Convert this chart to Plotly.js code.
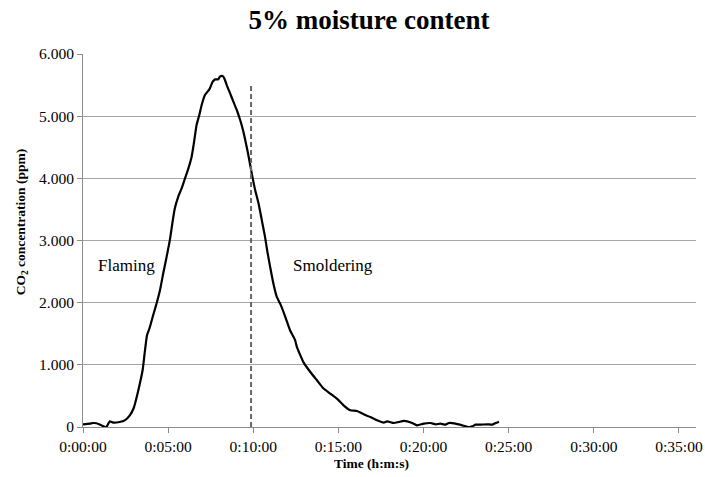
<!DOCTYPE html>
<html>
<head>
<meta charset="utf-8">
<script src="https://cdn.plot.ly/plotly-3.0.1.min.js"></script>
<style>
  html, body { margin: 0; padding: 0; background: #fff; }
  #chart { width: 705px; height: 477px; }
</style>
</head>
<body>
<div id="chart"></div>
<script>
// Elapsed time in minutes
const timeMin = [
  0.00, 0.40, 0.59, 0.79, 1.08, 1.37, 1.57, 1.77, 2.15, 2.45,
  2.75, 2.98, 3.18, 3.34, 3.50, 3.63, 3.76, 3.92, 4.12, 4.32,
  4.52, 4.71, 4.91, 5.10, 5.26, 5.39, 5.59, 5.79, 5.99, 6.19,
  6.38, 6.51, 6.67, 6.83, 6.97, 7.16, 7.42, 7.62, 7.76, 7.94,
  8.04, 8.20, 8.30, 8.44, 8.64, 8.83, 9.03, 9.23, 9.42, 9.57,
  9.71, 9.91, 10.11, 10.31, 10.50, 10.69, 10.83, 10.99, 11.18, 11.38,
  11.60, 11.88, 12.16, 12.46, 12.56, 12.72, 12.95, 13.35, 13.74, 14.13,
  14.52, 14.91, 15.30, 15.70, 16.09, 16.48, 16.88, 17.27, 17.66, 17.86,
  18.25, 18.54, 18.84, 19.04, 19.33, 19.62, 20.01, 20.41, 20.70, 20.99,
  21.29, 21.49, 21.88, 22.27, 22.66, 22.86, 23.06, 23.35, 23.74, 24.03,
  24.23, 24.43
];
// CO2 concentration (ppm)
const co2 = [
  43, 54, 64, 60, 27, 0, 91, 70, 80, 107,
  188, 306, 510, 698, 912, 1208, 1476, 1600, 1798, 1986,
  2200, 2469, 2737, 3006, 3301, 3515, 3703, 3837, 3998, 4159,
  4347, 4562, 4857, 5018, 5179, 5340, 5431, 5555, 5592, 5592,
  5635, 5646, 5608, 5501, 5367, 5233, 5099, 4938, 4750, 4562,
  4374, 4079, 3811, 3596, 3328, 3059, 2818, 2576, 2308, 2093,
  1972, 1771, 1556, 1395, 1288, 1181, 1040, 885, 752, 618,
  537, 457, 349, 269, 258, 204, 161, 108, 71, 91,
  64, 80, 97, 91, 64, 27, 54, 64, 43, 54,
  38, 64, 54, 27, 0, 10, 38, 38, 43, 38,
  64, 86
];
// Flaming / smoldering transition marker
const transitionMin = [9.87, 9.87];
const transitionPpm = [0, 5500];
// Axis
const xRangeMin = [0, 36];
const yTicks = [0, 1000, 2000, 3000, 4000, 5000, 6000];
// Phase labels
const phaseLabels = ["Flaming", "Smoldering"];
const phaseLabelMin = [0.75, 12.21];
const phaseLabelPpm = [2600, 2600];

function toDate(m) {
  const totalMs = Math.round(m * 60000);
  const h = Math.floor(totalMs / 3600000);
  const mi = Math.floor((totalMs % 3600000) / 60000);
  const s = (totalMs % 60000) / 1000;
  const p2 = n => String(n).padStart(2, '0');
  const sInt = Math.floor(s);
  const frac = Math.round((s - sInt) * 1000);
  return '2000-01-01 ' + p2(h) + ':' + p2(mi) + ':' + p2(sInt) + '.' + String(frac).padStart(3, '0');
}

const FONT = 'Liberation Serif, Times New Roman, Times, serif';

const traces = [
  {
    x: timeMin.map(toDate),
    y: co2,
    type: 'scatter',
    mode: 'lines',
    line: { color: '#000000', width: 2.2, shape: 'spline', smoothing: 0.5 },
    hoverinfo: 'x+y',
    showlegend: false
  },
  {
    x: transitionMin.map(toDate),
    y: transitionPpm,
    type: 'scatter',
    mode: 'lines',
    line: { color: '#666666', width: 2, dash: '5px,3px' },
    hoverinfo: 'skip',
    showlegend: false
  }
];

const annotations = phaseLabels.map((t, i) => ({
  x: toDate(phaseLabelMin[i]),
  y: phaseLabelPpm[i],
  xref: 'x', yref: 'y',
  text: t,
  showarrow: false,
  xanchor: 'left',
  yanchor: 'middle',
  font: { family: FONT, size: 17, color: '#000' }
}));

annotations.push({
  xref: 'paper', yref: 'paper',
  x: -0.1, y: 0.548,
  text: '<b>CO<sub>2</sub> concentration (ppm)</b>',
  textangle: -90,
  showarrow: false,
  xanchor: 'center', yanchor: 'middle',
  font: { family: FONT, size: 13.5, color: '#000' }
});
annotations.push({
  xref: 'paper', yref: 'paper',
  x: 0.47, y: -0.099,
  text: '<b>Time (h:m:s)</b>',
  showarrow: false,
  xanchor: 'center', yanchor: 'middle',
  font: { family: FONT, size: 13.5, color: '#000' }
});

const layout = {
  width: 705,
  height: 477,
  margin: { l: 83, r: 9, t: 54, b: 50, pad: 0 },
  paper_bgcolor: '#ffffff',
  plot_bgcolor: '#ffffff',
  separators: ',.',
  font: { family: FONT, color: '#000' },
  title: {
    text: '<b>5% moisture content</b>',
    font: { family: FONT, size: 27, color: '#000' },
    xref: 'container', yref: 'container',
    x: 369 / 705, xanchor: 'center',
    y: 1 - 20 / 477, yanchor: 'middle'
  },
  xaxis: {
    type: 'date',
    range: xRangeMin.map(toDate),
    tick0: toDate(0),
    dtick: 300000,
    tickformat: '%-H:%M:%S',
    showgrid: false,
    zeroline: false,
    showline: true,
    linecolor: '#8c8c8c',
    linewidth: 1,
    ticks: 'outside',
    ticklen: 5,
    tickcolor: '#8c8c8c',
    tickfont: { family: FONT, size: 15.5, color: '#000' },
    fixedrange: true
  },
  yaxis: {
    range: [0, 6000],
    tickvals: yTicks,
    tickformat: ',d',
    showgrid: true,
    gridcolor: '#a6a6a6',
    gridwidth: 1,
    zeroline: false,
    showline: true,
    linecolor: '#8c8c8c',
    linewidth: 1,
    ticks: 'outside',
    ticklen: 5,
    tickcolor: '#8c8c8c',
    tickfont: { family: FONT, size: 15.5, color: '#000' },
    fixedrange: true
  },
  annotations: annotations,
  showlegend: false
};

Plotly.newPlot('chart', traces, layout, { displayModeBar: false, staticPlot: true });
</script>
</body>
</html>
